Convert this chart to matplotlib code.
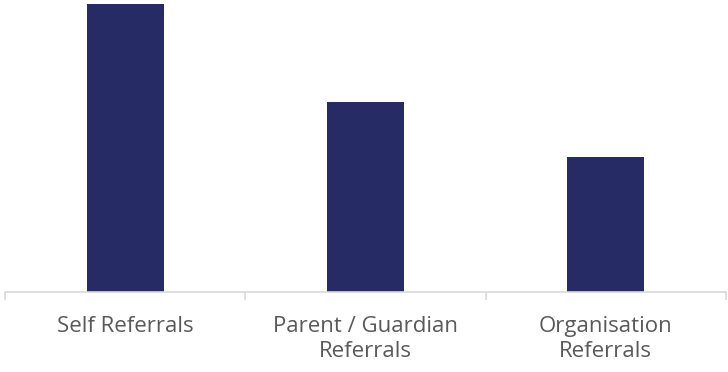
import numpy as np
import matplotlib.pyplot as plt

categories = ["Self Referrals", "Parent / Guardian\nReferrals", "Organisation\nReferrals"]
values = [48, 31.7, 22.5]

plt.rcParams['font.family'] = ['Open Sans', 'DejaVu Sans']

fig = plt.figure(figsize=(7.28, 3.72), dpi=100)
ax = fig.add_axes([5 / 728, 1 - 292 / 372, 721 / 728, 288 / 372])

x = np.arange(len(categories))
ax.bar(x, values, width=0.32, color="#262b66")

ax.set_xlim(-0.5, len(categories) - 0.5)
ax.set_ylim(0, max(values))
ax.set_yticks([])
for s in ["top", "right", "left"]:
    ax.spines[s].set_visible(False)
ax.spines["bottom"].set_color("#d9d9d9")
ax.spines["bottom"].set_linewidth(1.2)

ax.set_xticks(x)
ax.set_xticklabels(categories, fontsize=16, color="#595959", linespacing=1.3)
ax.tick_params(axis="x", which="major", length=0, pad=17)
ax.set_xticks(np.arange(-0.5, len(categories)), minor=True)
ax.tick_params(axis="x", which="minor", length=6, color="#d9d9d9", width=1.2)

fig.savefig("out.png", dpi=100)
